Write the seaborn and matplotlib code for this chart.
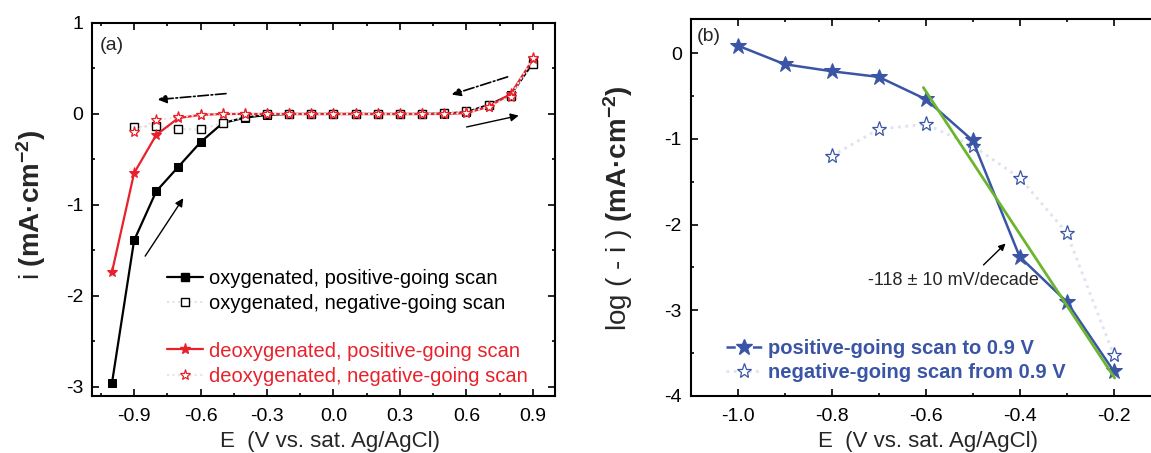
import numpy as np
import pandas as pd
import matplotlib
matplotlib.use('Agg')
import matplotlib.pyplot as plt
from matplotlib.lines import Line2D
from matplotlib.ticker import MultipleLocator, FormatStrFormatter
import seaborn as sns

# ---- panel (a) data: current density vs potential
E_a = [-1.0, -0.9, -0.8, -0.7, -0.6, -0.5, -0.4, -0.3, -0.2, -0.1,
       0.0, 0.1, 0.2, 0.3, 0.4, 0.5, 0.6, 0.7, 0.8, 0.9]
ox_pos = [-2.96, -1.39, -0.85, -0.58, -0.31, -0.10, -0.04, -0.01, 0.0, 0.0,
          0.0, 0.0, 0.0, 0.0, 0.0, 0.005, 0.02, 0.10, 0.21, 0.56]
E_a_neg = E_a[1:]
ox_neg = [-0.147, -0.13, -0.165, -0.17, -0.10, -0.03, 0.0, 0.0, 0.0,
          0.0, 0.0, 0.0, 0.0, 0.0, 0.01, 0.03, 0.10, 0.20, 0.55]
deox_pos = [-1.74, -0.65, -0.23, -0.045, -0.01, 0.0, 0.0, 0.0, 0.0, 0.0,
            0.0, 0.0, 0.0, 0.0, 0.0, 0.0, 0.01, 0.08, 0.22, 0.60]
deox_neg = [-0.20, -0.066, -0.037, -0.01, 0.0, 0.0, 0.0, 0.0, 0.0,
            0.0, 0.0, 0.0, 0.0, 0.0, 0.005, 0.01, 0.08, 0.19, 0.62]

# ---- panel (b) data: Tafel plot
E_b_pos = [-1.0, -0.9, -0.8, -0.7, -0.6, -0.5, -0.4, -0.3, -0.2]
logi_pos = [0.09, -0.128, -0.21, -0.276, -0.536, -1.018, -2.375, -2.90, -3.71]
E_b_neg = [-0.8, -0.7, -0.6, -0.5, -0.4, -0.3, -0.2]
logi_neg = [-1.20, -0.886, -0.828, -1.08, -1.454, -2.095, -3.52]
fit_E = [-0.605, -0.198]
fit_logi = [-0.40, -3.79]

labels_a1 = ['oxygenated, positive-going scan', 'oxygenated, negative-going scan']
labels_a2 = ['deoxygenated, positive-going scan', 'deoxygenated, negative-going scan']
labels_b = ['positive-going scan to 0.9 V', 'negative-going scan from 0.9 V']

RED = '#e8212b'
BLUE = '#3a55a5'
GREEN = '#6cb52e'
FAINT_GRAY = '#e2e2e2'
FAINT_RED = '#f6dede'
FAINT_BLUE = '#dfe2f0'

sns.set_theme(style='ticks')
plt.rcParams['font.family'] = ['Liberation Sans', 'DejaVu Sans']
plt.rcParams['mathtext.fontset'] = 'custom'
plt.rcParams['mathtext.rm'] = 'Liberation Sans'
plt.rcParams['mathtext.bf'] = 'Liberation Sans:bold'
plt.rcParams['axes.unicode_minus'] = False

fig = plt.figure(figsize=(11.51, 4.53), dpi=100)
ax_a = fig.add_axes([92/1151, 57/453, 463/1151, 373/453])
ax_b = fig.add_axes([690.7/1151, 57/453, 470/1151, 377/453])


def style_axes(ax):
    for s in ax.spines.values():
        s.set_linewidth(1.5)
        s.set_color('black')
    ax.tick_params(which='both', direction='in', top=True, right=True,
                   width=1.2, colors='black', labelsize=14)
    ax.tick_params(which='major', length=5)
    ax.tick_params(which='minor', length=2.5)
    ax.tick_params(axis='x', pad=8.5)
    ax.tick_params(axis='y', pad=6.3)


# ---------------- panel (a)
sns.lineplot(x=E_a, y=ox_pos, ax=ax_a, color='black', lw=1.6, marker='s',
             markersize=6, markeredgecolor='black', sort=False, estimator=None, zorder=3)
sns.lineplot(x=E_a_neg, y=ox_neg, ax=ax_a, color=FAINT_GRAY, lw=1.5, ls=':',
             marker='s', markersize=6, markerfacecolor='white',
             markeredgecolor='black', markeredgewidth=1.0,
             sort=False, estimator=None, zorder=4)
sns.lineplot(x=E_a, y=deox_pos, ax=ax_a, color=RED, lw=1.6, marker='*',
             markersize=8, markeredgecolor=RED, sort=False, estimator=None, zorder=5)
sns.lineplot(x=E_a_neg, y=deox_neg, ax=ax_a, color=FAINT_RED, lw=1.5, ls=':',
             marker='*', markersize=8, markerfacecolor='white',
             markeredgecolor=RED, markeredgewidth=0.9,
             sort=False, estimator=None, zorder=6)

ax_a.set_xlim(-1.09, 1.0)
ax_a.set_ylim(-3.1, 1.0)
ax_a.xaxis.set_major_locator(MultipleLocator(0.3))
ax_a.xaxis.set_minor_locator(MultipleLocator(0.15))
ax_a.xaxis.set_major_formatter(FormatStrFormatter('%.1f'))
ax_a.yaxis.set_major_locator(MultipleLocator(1))
ax_a.yaxis.set_minor_locator(MultipleLocator(0.5))
ax_a.yaxis.set_major_formatter(FormatStrFormatter('%d'))
style_axes(ax_a)

ax_a.set_xlabel('E  (V vs. sat. Ag/AgCl)', fontsize=16, va='top')
ax_a.xaxis.set_label_coords(0.513, -0.094)
ax_a.set_ylabel('i $\\mathbf{(mA\u00b7cm^{-2})}$', fontsize=20)
ax_a.yaxis.set_label_coords(-0.095, 0.512)
ax_a.text(0.016, 0.941, '(a)', transform=ax_a.transAxes, fontsize=14,
          ha='left', va='center')

# scan direction arrows
ax_a.annotate('', xy=(-0.793, 0.158), xytext=(-0.485, 0.224),
              arrowprops=dict(arrowstyle='-|>', ls='-.', lw=1.2, color='black',
                              mutation_scale=13, shrinkA=0, shrinkB=0))
ax_a.annotate('', xy=(0.534, 0.213), xytext=(0.786, 0.408),
              arrowprops=dict(arrowstyle='-|>', ls='-.', lw=1.2, color='black',
                              mutation_scale=13, shrinkA=0, shrinkB=0))
ax_a.annotate('', xy=(0.836, -0.018), xytext=(0.601, -0.143),
              arrowprops=dict(arrowstyle='-|>', lw=1.0, color='black',
                              mutation_scale=12, shrinkA=0, shrinkB=0))
ax_a.annotate('', xy=(-0.678, -0.926), xytext=(-0.85, -1.5625),
              arrowprops=dict(arrowstyle='-|>', lw=1.0, color='black',
                              mutation_scale=12, shrinkA=0, shrinkB=0))

h1 = Line2D([], [], color='black', lw=1.6, marker='s', ms=6)
h2 = Line2D([], [], color=FAINT_GRAY, lw=1.5, ls=':', marker='s', ms=6,
            mfc='white', mec='black', mew=1.0)
h3 = Line2D([], [], color=RED, lw=1.6, marker='*', ms=8)
h4 = Line2D([], [], color=FAINT_RED, lw=1.5, ls=':', marker='*', ms=8,
            mfc='white', mec=RED, mew=0.9)
leg_kw = dict(loc='upper left', frameon=False, fontsize=14.5, handlelength=1.8,
              handletextpad=0.3, borderpad=0, borderaxespad=0, labelspacing=0.3)
leg1 = ax_a.legend([h1, h2], labels_a1, bbox_to_anchor=(0.161, 0.34),
                   labelcolor=['black', 'black'], **leg_kw)
ax_a.add_artist(leg1)
ax_a.legend([h3, h4], labels_a2, bbox_to_anchor=(0.161, 0.146),
            labelcolor=[RED, RED], **leg_kw)

# ---------------- panel (b)
sns.lineplot(x=E_b_neg, y=logi_neg, ax=ax_b, color=FAINT_BLUE, lw=2.0, ls=':',
             marker='*', markersize=11, markerfacecolor='white',
             markeredgecolor=BLUE, markeredgewidth=0.9,
             sort=False, estimator=None, zorder=3)
sns.lineplot(x=E_b_pos, y=logi_pos, ax=ax_b, color=BLUE, lw=1.8, marker='*',
             markersize=12, markeredgecolor=BLUE, sort=False, estimator=None, zorder=4)
sns.lineplot(x=fit_E, y=fit_logi, ax=ax_b, color=GREEN, lw=2.0,
             sort=False, estimator=None, zorder=5)

ax_b.set_xlim(-1.1, -0.1)
ax_b.set_ylim(-4.0, 0.4)
ax_b.xaxis.set_major_locator(MultipleLocator(0.2))
ax_b.xaxis.set_minor_locator(MultipleLocator(0.1))
ax_b.xaxis.set_major_formatter(FormatStrFormatter('%.1f'))
ax_b.yaxis.set_major_locator(MultipleLocator(1))
ax_b.yaxis.set_minor_locator(MultipleLocator(0.5))
ax_b.yaxis.set_major_formatter(FormatStrFormatter('%d'))
style_axes(ax_b)
ax_b.spines['right'].set_visible(False)

ax_b.set_xlabel('E  (V vs. sat. Ag/AgCl)', fontsize=16, va='top')
ax_b.xaxis.set_label_coords(0.504, -0.093)
ax_b.set_ylabel('log ( - i ) $\\mathbf{(mA\u00b7cm^{-2})}$', fontsize=20)
ax_b.yaxis.set_label_coords(-0.118, 0.499)
ax_b.text(0.013, 0.953, '(b)', transform=ax_b.transAxes, fontsize=14,
          ha='left', va='center')

ax_b.annotate('', xy=(-0.43, -2.22), xytext=(-0.477, -2.47),
              arrowprops=dict(arrowstyle='-|>', lw=1.0, color='black',
                              mutation_scale=10, shrinkA=0, shrinkB=0))
ax_b.text(-0.54, -2.65, '-118 \u00b1 10 mV/decade', fontsize=13,
          ha='center', va='center', zorder=6)

hb1 = Line2D([], [], color=BLUE, lw=1.8, ls='--', marker='*', ms=12)
hb2 = Line2D([], [], color=FAINT_BLUE, lw=2.0, ls=':', marker='*', ms=11,
             mfc='white', mec=BLUE, mew=0.9)
ax_b.legend([hb1, hb2], labels_b, loc='upper left', bbox_to_anchor=(0.075, 0.152),
            frameon=False, prop={'weight': 'bold', 'size': 14.5},
            labelcolor=[BLUE, BLUE], handlelength=1.8, handletextpad=0.3,
            borderpad=0, borderaxespad=0, labelspacing=0.25)

fig.savefig('out.png', dpi=100)
